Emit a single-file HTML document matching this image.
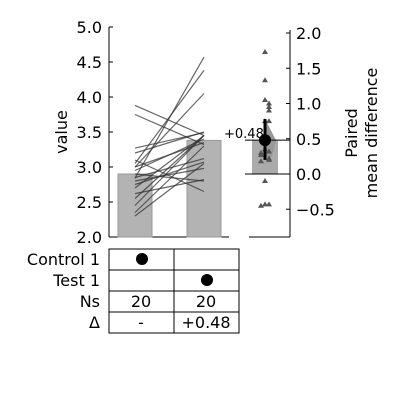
<!DOCTYPE html>
<html><head><meta charset="utf-8"><style>
body{margin:0;background:#fff;width:400px;height:400px;overflow:hidden}
text{font-family:"DejaVu Sans","Liberation Sans",sans-serif}
</style></head><body>
<svg id="c" width="400" height="400" xmlns="http://www.w3.org/2000/svg"></svg>
<script>
const controlVals=[2.84,3.05,3.0,2.45,2.35,2.55,2.7,2.3,2.95,3.0,2.75,3.2,2.85,3.27,2.62,2.8,2.9,3.88,3.75,3.1];
const testVals=[4.57,4.38,4.05,3.45,3.3,3.45,3.45,3.05,3.4,3.35,3.07,3.5,3.12,3.49,2.82,2.98,2.8,3.45,3.32,2.65];
const leftTicks=[2.0,2.5,3.0,3.5,4.0,4.5,5.0];
const rightTicks=[-0.5,0.0,0.5,1.0,1.5,2.0];
const groupMeans=[2.9,3.38];
const meanDiff=0.48;
const ciBounds=[0.2,0.78];
const NS="http://www.w3.org/2000/svg",svg=document.getElementById('c');
function el(t,a,txt){const e=document.createElementNS(NS,t);for(const k in a)e.setAttribute(k,a[k]);if(txt!==undefined)e.textContent=txt;svg.appendChild(e);return e;}
const yL=v=>237-(v-2)*70;
const yR=v=>174-v*70.5;
let e=el('line',{x1:109,y1:27,x2:109,y2:237,stroke:'#000'});

e=el('line',{x1:109,y1:237,x2:229,y2:237,stroke:'#000'});

leftTicks.forEach(t=>{el('line',{x1:109,y1:yL(t),x2:113,y2:yL(t),stroke:'#000'});
e=el('text',{x:102,y:yL(t)+6,'text-anchor':'end','font-size':16},t.toFixed(1));
});
e=el('text',{x:67,y:132,'text-anchor':'middle','font-size':16,transform:'rotate(-90 67 132)'},'value');

[118,187].forEach((x,i)=>{e=el('rect',{x:x,y:yL(groupMeans[i]),width:34,height:237-yL(groupMeans[i]),fill:'#b3b3b3',stroke:'#999'});
});
controlVals.forEach((c,i)=>{e=el('line',{x1:135,y1:yL(c),x2:204,y2:yL(testVals[i]),stroke:'#333','stroke-opacity':0.75,'stroke-width':1.2});
});
e=el('line',{x1:290,y1:30,x2:290,y2:237,stroke:'#000'});

el('line',{x1:249,y1:237,x2:290,y2:237,stroke:'#000'});
rightTicks.forEach(t=>{el('line',{x1:286,y1:yR(t),x2:290,y2:yR(t),stroke:'#000'});
e=el('text',{x:296,y:yR(t)+6,'font-size':16},(t<0?'\u2212':'')+Math.abs(t).toFixed(1));
});
e=el('text',{x:357,y:133,'text-anchor':'middle','font-size':16,transform:'rotate(-90 357 133)'},'Paired');

e=el('text',{x:377,y:133,'text-anchor':'middle','font-size':16,transform:'rotate(-90 377 133)'},'mean difference');

e=el('rect',{x:252,y:yR(meanDiff),width:26,height:yR(0)-yR(meanDiff),fill:'#aaa'});

e=el('polygon',{points:`265,${yR(ciBounds[1])} 276,${yR(meanDiff)} 272,${yR(0.25)} 265,${yR(ciBounds[0])}`,fill:'#999'});

el('line',{x1:245,y1:yR(0),x2:290,y2:yR(0),stroke:'#000'});
el('line',{x1:245,y1:yR(meanDiff),x2:290,y2:yR(meanDiff),stroke:'#000'});
const diffs=controlVals.map((c,i)=>testVals[i]-c);
const placed=[];
diffs.map((d,i)=>[d,i]).sort((a,b)=>b[0]-a[0]).forEach(([d])=>{const y=yR(d);let k=0;
placed.forEach(p=>{if(Math.abs(p-y)<4)k++;});placed.push(y);
const x=265+(k===0?0:(k%2?1:-1)*Math.ceil(k/2)*4);
e=el('polygon',{points:`${x},${y-3} ${x-3},${y+2} ${x+3},${y+2}`,fill:'#555'});
});
e=el('line',{x1:265,y1:yR(ciBounds[1]),x2:265,y2:yR(ciBounds[0]),stroke:'#000','stroke-width':3});

e=el('circle',{cx:265,cy:yR(meanDiff),r:6,fill:'#000'});

e=el('text',{x:224,y:138,'font-size':13},'+'+meanDiff.toFixed(2));

const rows=['Control 1','Test 1','Ns','\u0394'];
const cells=[['dot',''],['','dot'],['20','20'],['-','+0.48']];
rows.forEach((r,i)=>{const y=249+i*21;
e=el('text',{x:100,y:y+16,'text-anchor':'end','font-size':16},r);

cells[i].forEach((c,j)=>{const x=109+j*65;
el('rect',{x:x,y:y,width:65,height:21,fill:'none',stroke:'#000'});
if(c==='dot'){e=el('circle',{cx:x+33,cy:y+10,r:6,fill:'#000'});}
else if(c){e=el('text',{x:x+32,y:y+16,'text-anchor':'middle','font-size':16},c);}
});});
</script></body></html>
